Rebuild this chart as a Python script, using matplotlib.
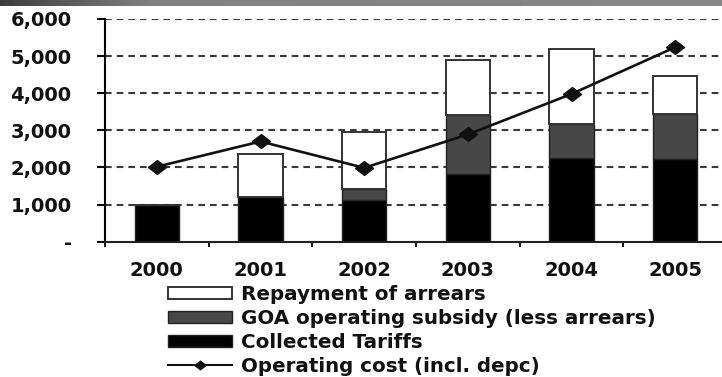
import numpy as np
import matplotlib.pyplot as plt
from matplotlib.lines import Line2D
from matplotlib.patches import Patch

# Water utility financing, thousands
years = ["2000", "2001", "2002", "2003", "2004", "2005"]
collected_tariffs = [1000, 1210, 1120, 1820, 2260, 2220]
goa_subsidy = [0, 0, 290, 1590, 910, 1210]
arrears_repayment = [0, 1150, 1540, 1490, 2020, 1040]
operating_cost = [2020, 2700, 1990, 2890, 3980, 5240]

y_ticks = [0, 1000, 2000, 3000, 4000, 5000, 6000]
y_tick_labels = ["-", "1,000", "2,000", "3,000", "4,000", "5,000", "6,000"]

W, H = 722, 377
fig = plt.figure(figsize=(W / 100, H / 100), dpi=100)
fig.patch.set_facecolor("white")

# grey banner along the top edge
band = fig.add_axes([0, 1 - 6 / H, 1, 6 / H])
ramp = np.concatenate([np.linspace(0.24, 0.5, 150), np.linspace(0.5, 0.53, W - 150)])
band.imshow(ramp[None, :], cmap="gray", vmin=0, vmax=1, aspect="auto",
            extent=(0, 1, 0, 1))
band.set_axis_off()

ax = fig.add_axes([105 / W, (H - 241.7) / H, 622 / W, (241.7 - 19) / H])
x = np.arange(len(years))
bw = 0.43
edge = "#222222"

b1 = np.array(collected_tariffs)
b2 = b1 + np.array(goa_subsidy)
ax.bar(x, collected_tariffs, bw, color="black", edgecolor=edge, linewidth=1.0, zorder=2)
ax.bar(x, goa_subsidy, bw, bottom=b1, color="#474747", edgecolor=edge, linewidth=1.0, zorder=2)
ax.bar(x, arrears_repayment, bw, bottom=b2, color="white", edgecolor="#333333", linewidth=1.4, zorder=2)

diamond = [(-1.3, 0), (0, 1), (1.3, 0), (0, -1), (-1.3, 0)]
ax.plot(x, operating_cost, color="#111111", linewidth=1.9, marker=diamond,
        markersize=13, markerfacecolor="#111111", markeredgecolor="#111111", zorder=3)

ax.set_xlim(-0.5, len(years) - 0.5)
ax.set_ylim(0, 6000)

for y in y_ticks[1:]:
    ax.axhline(y, color="#3a3a3a", linewidth=1.5, linestyle=(0, (3.2, 2.4)), zorder=1)

ax.spines["top"].set_visible(False)
ax.spines["right"].set_visible(False)
ax.spines["left"].set_linewidth(1.5)
ax.spines["bottom"].set_linewidth(1.5)
ax.spines["bottom"].set_color("#222222")

ax.set_yticks(y_ticks)
ax.set_yticklabels(y_tick_labels)
ax.tick_params(axis="y", direction="out", length=6, width=1.5, pad=18)

ax.set_xticks(x)
ax.set_xticklabels(years)
ax.set_xticks(np.arange(len(years) + 1) - 0.5, minor=True)
ax.tick_params(axis="x", which="major", length=0, pad=14)
ax.tick_params(axis="x", which="minor", direction="out", length=3.5, width=1.3)

for lab in ax.get_xticklabels() + ax.get_yticklabels():
    lab.set_fontfamily("DejaVu Sans")
    lab.set_fontweight("bold")
    lab.set_fontsize(14)
    lab.set_color("#111111")

handles = [
    Patch(facecolor="white", edgecolor="#333333", linewidth=1.4),
    Patch(facecolor="#474747", edgecolor=edge, linewidth=1.0),
    Patch(facecolor="black", edgecolor=edge, linewidth=1.0),
    Line2D([], [], color="#111111", linewidth=1.5, marker=diamond, markersize=8),
]
labels = [
    "Repayment of arrears",
    "GOA operating subsidy (less arrears)",
    "Collected Tariffs",
    "Operating cost (incl. depc)",
]
fig.legend(handles, labels, loc="upper left", bbox_to_anchor=(168 / W, 1 - 285 / H),
           frameon=False, borderpad=0, borderaxespad=0, handlelength=3.2,
           handleheight=0.55, handletextpad=0.5, labelspacing=0.25,
           prop={"family": "DejaVu Sans", "weight": "bold", "size": 14.3})
for t in fig.legends[0].get_texts():
    t.set_color("#111111")

fig.savefig("out.png", dpi=100)
